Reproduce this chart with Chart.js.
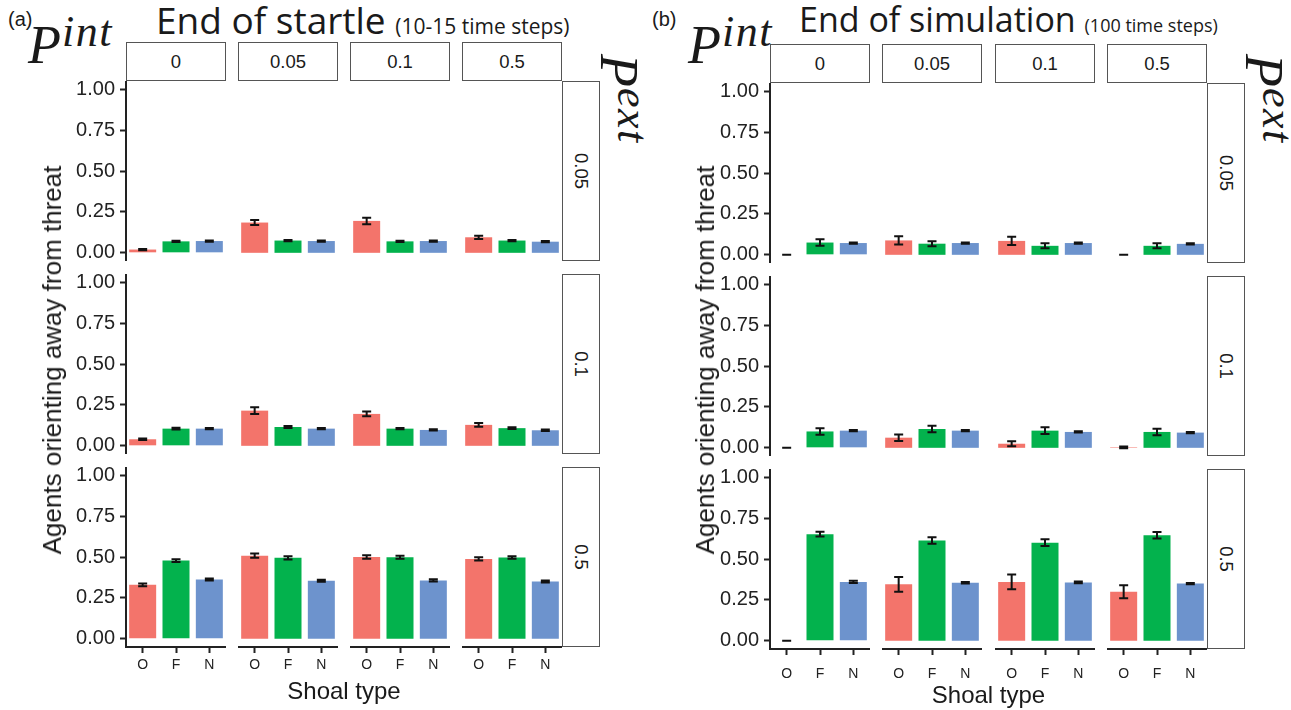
<!DOCTYPE html>
<html>
<head>
<meta charset="utf-8">
<script src="https://cdn.jsdelivr.net/npm/chart.js@4.4.0/dist/chart.umd.min.js"></script>
<style>
  body { margin: 0; background: #fff; width: 1291px; height: 710px; position: relative; overflow: hidden;
         font-family: "Liberation Sans", Arial, sans-serif; color: #1a1a1a; }
  canvas { position: absolute; }
  .txt { position: absolute; white-space: nowrap; line-height: 1; }
  .strip { position: absolute; box-sizing: border-box; border: 1px solid #555; background: #fff;
           display: flex; align-items: center; justify-content: center; font-size: 18.5px; color: #1a1a1a; }
  .strip span.rot { transform: rotate(90deg); white-space: nowrap; }
  .title { font-family: "Open Sans", Lato, sans-serif; }
  .pl { font-family: "Liberation Serif", "DejaVu Serif", serif; font-style: italic; }
  .pl sup { font-size: 44px; vertical-align: 0; position: relative; top: -17px; letter-spacing: 1.5px; margin-left: 1px; }
</style>
</head>
<body>
<script>
// facet levels and categories
var shoalTypes = ['O', 'F', 'N'];
var pIntLevels = ['0', '0.05', '0.1', '0.5'];
var pExtLevels = ['0.05', '0.1', '0.5'];
var yTicks = [0, 0.25, 0.5, 0.75, 1];
var barColors = ['#F3746B', '#03B24D', '#6D93CD'];

// (a) end of startle: [Pext row][Pint col][O, F, N]
var startleMean = [
  [[0.02, 0.07, 0.072], [0.185, 0.075, 0.072], [0.195, 0.07, 0.072], [0.095, 0.075, 0.068]],
  [[0.04, 0.105, 0.105], [0.215, 0.115, 0.105], [0.195, 0.105, 0.097], [0.128, 0.108, 0.095]],
  [[0.33, 0.478, 0.362], [0.508, 0.495, 0.355], [0.5, 0.498, 0.357], [0.488, 0.497, 0.35]]
];
var startleErr = [
  [[0.004, 0.004, 0.004], [0.015, 0.004, 0.004], [0.02, 0.004, 0.004], [0.01, 0.004, 0.004]],
  [[0.004, 0.005, 0.004], [0.02, 0.006, 0.004], [0.015, 0.004, 0.004], [0.012, 0.005, 0.004]],
  [[0.008, 0.008, 0.006], [0.013, 0.01, 0.006], [0.01, 0.009, 0.007], [0.01, 0.008, 0.006]]
];

// (b) end of simulation
var simMean = [
  [[0, 0.075, 0.072], [0.088, 0.068, 0.072], [0.085, 0.055, 0.072], [0, 0.055, 0.067]],
  [[0, 0.1, 0.105], [0.062, 0.115, 0.105], [0.025, 0.105, 0.097], [0.003, 0.097, 0.093]],
  [[0, 0.652, 0.36], [0.345, 0.613, 0.355], [0.36, 0.6, 0.357], [0.3, 0.645, 0.35]]
];
var simErr = [
  [[0, 0.02, 0.004], [0.025, 0.015, 0.004], [0.025, 0.015, 0.004], [0, 0.015, 0.004]],
  [[0, 0.02, 0.004], [0.02, 0.02, 0.004], [0.015, 0.02, 0.004], [0.005, 0.02, 0.004]],
  [[0, 0.015, 0.007], [0.045, 0.02, 0.005], [0.045, 0.02, 0.005], [0.04, 0.02, 0.004]]
];

var panels = [
  { mean: startleMean, err: startleErr, colX: [126, 238, 350, 462], rowY: [81, 274, 467], xPad: 4, yLab: 74, shoalTop: 679 },
  { mean: simMean, err: simErr, colX: [770, 882, 995, 1107], rowY: [83, 276, 469], xPad: 11, yLab: 65, shoalTop: 683 }
];
var W = 100, H = 180, YW = 70, XH = 34;

var errorBars = {
  id: 'errorBars',
  afterDatasetsDraw: function (chart) {
    var ctx = chart.ctx, ys = chart.scales.y;
    chart.data.datasets.forEach(function (ds, di) {
      chart.getDatasetMeta(di).data.forEach(function (bar, i) {
        var v = ds.data[i], e = ds.err[i];
        var top = ys.getPixelForValue(v + e), bot = ys.getPixelForValue(v - e), x = bar.x;
        ctx.save();
        ctx.strokeStyle = '#111';
        ctx.lineWidth = 2;
        ctx.beginPath();
        ctx.moveTo(x, top); ctx.lineTo(x, bot);
        ctx.moveTo(x - 4.5, top); ctx.lineTo(x + 4.5, top);
        ctx.moveTo(x - 4.5, bot); ctx.lineTo(x + 4.5, bot);
        ctx.stroke();
        ctx.restore();
      });
    });
  }
};

function addCell(p, r, c) {
  var first = c === 0, bottom = r === 2;
  var cv = document.createElement('canvas');
  cv.width = W + (first ? YW : 0);
  cv.height = H + (bottom ? XH : 0);
  cv.style.left = (p.colX[c] - (first ? YW : 0)) + 'px';
  cv.style.top = p.rowY[r] + 'px';
  document.body.appendChild(cv);
  new Chart(cv, {
    type: 'bar',
    data: {
      labels: shoalTypes,
      datasets: [{
        data: p.mean[r][c],
        err: p.err[r][c],
        backgroundColor: barColors,
        borderWidth: 0,
        categoryPercentage: 1,
        barPercentage: 0.81
      }]
    },
    options: {
      responsive: false, animation: false, events: [],
      layout: { padding: 0 },
      plugins: { legend: { display: false }, tooltip: { enabled: false } },
      scales: {
        x: {
          display: bottom,
          afterFit: function (s) { if (bottom) { s.height = XH; } s.paddingLeft = 0; s.paddingRight = 0; },
          ticks: { font: { size: 14, family: 'Liberation Sans' }, color: '#222', padding: p.xPad, maxRotation: 0, autoSkip: false },
          grid: { offset: false, drawOnChartArea: false, drawTicks: true, tickLength: 6, tickColor: '#222', tickWidth: 2 },
          border: { display: true, color: '#222', width: 2 }
        },
        y: {
          min: -0.05, max: 1.05, display: first,
          afterBuildTicks: function (s) { s.ticks = yTicks.map(function (v) { return { value: v }; }); },
          afterFit: function (s) { if (first) { s.width = YW; } s.paddingTop = 0; s.paddingBottom = 0; },
          ticks: { callback: function (v) { return v.toFixed(2); }, font: { size: 20, family: 'Liberation Sans' },
                   color: '#222', padding: 5 },
          grid: { drawOnChartArea: false, drawTicks: true, tickLength: 6, tickColor: '#222', tickWidth: 2 },
          border: { display: true, color: '#222', width: 2 }
        }
      }
    },
    plugins: [errorBars]
  });
}

function addText(html, cls, css) {
  var d = document.createElement('div');
  d.className = 'txt ' + (cls || '');
  d.innerHTML = html;
  Object.assign(d.style, css);
  document.body.appendChild(d);
  return d;
}

function addStrip(x, y, w, h, label, rot) {
  var d = document.createElement('div');
  d.className = 'strip';
  Object.assign(d.style, { left: x + 'px', top: y + 'px', width: w + 'px', height: h + 'px' });
  d.innerHTML = rot ? '<span class="rot">' + label + '</span>' : label;
  document.body.appendChild(d);
}

panels.forEach(function (p) {
  for (var r = 0; r < 3; r++) for (var c = 0; c < 4; c++) addCell(p, r, c);
  var stripTop = p.rowY[0] - 39;
  pIntLevels.forEach(function (lv, c) { addStrip(p.colX[c], stripTop, W, 39, lv, false); });
  var rx = p.colX[3] + W;
  pExtLevels.forEach(function (lv, r) { addStrip(rx, p.rowY[r], 38, H, lv, true); });
  var cx = (p.colX[0] + p.colX[3] + W) / 2;
  addText('Shoal type', '', { left: cx + 'px', top: p.shoalTop + 'px', fontSize: '24px', transform: 'translateX(-50%)' });
  addText('Agents orienting away from threat', '', { left: (p.colX[0] - p.yLab) + 'px', top: '360px', fontSize: '26px',
          transform: 'translate(-50%,-50%) rotate(-90deg)' });
  addText('P<sup>ext</sup>', 'pl', { left: (rx + 84) + 'px', top: '54px', fontSize: '54px', transformOrigin: '0 0', transform: 'rotate(90deg)' });
});

addText('(a)', '', { left: '8px', top: '9px', fontSize: '20px' });
addText('(b)', '', { left: '652px', top: '9px', fontSize: '20px' });
addText('End of startle <span style="font-size:21px">(10-15 time steps)</span>', 'title', { left: '156px', top: '1px', fontSize: '37px' });
addText('End of simulation <span style="font-size:18px">(100 time steps)</span>', 'title', { left: '799px', top: '2px', fontSize: '34px' });
addText('P<sup>int</sup>', 'pl', { left: '28px', top: '18px', fontSize: '54px' });
addText('P<sup>int</sup>', 'pl', { left: '688px', top: '18px', fontSize: '54px' });
</script>
</body>
</html>
